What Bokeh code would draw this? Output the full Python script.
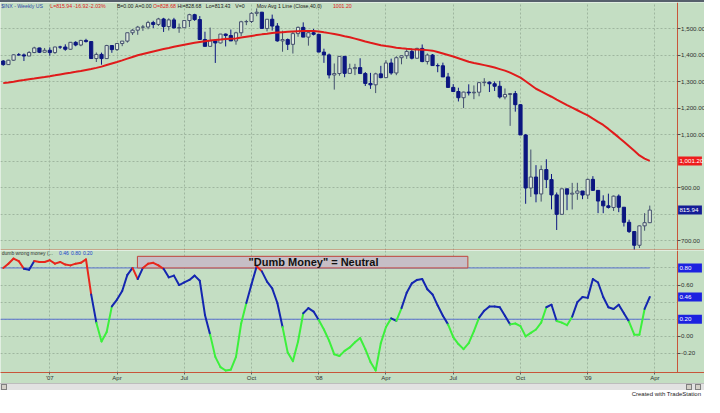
import numpy as np
from bokeh.plotting import figure
from bokeh.models import (ColumnDataSource, FixedTicker, NumeralTickFormatter, Label,
                          Div, Range1d, Span)
from bokeh.core.properties import value
from bokeh.layouts import column
from bokeh.embed import file_html
from bokeh.resources import INLINE

# ---------------- data (weekly $INX, Nov 2006 - Mar 2009) ----------------
opens = [1377.9, 1364.3, 1380.9, 1401.2, 1400.95, 1396.7, 1409.8, 1427.1, 1410.8, 1418.3,
         1409.7, 1430.7, 1430.5, 1422.2, 1448.4, 1438.1, 1455.5, 1451.2, 1387.2, 1402.8,
         1386.95, 1436.1, 1420.9, 1443.8, 1452.85, 1484.35, 1494.1, 1505.6, 1505.85, 1522.75,
         1515.7, 1536.3, 1507.7, 1532.9, 1502.6, 1503.35, 1530.4, 1552.5, 1534.1, 1458.95,
         1433.1, 1453.6, 1445.9, 1479.4, 1474.0, 1453.55, 1484.25, 1525.75, 1526.75, 1557.6,
         1561.8, 1500.6, 1535.3, 1509.65, 1453.7, 1458.7, 1440.7, 1481.1, 1504.7, 1467.95,
         1484.5, 1478.5, 1411.6, 1401.0, 1325.2, 1330.6, 1395.4, 1331.3, 1349.0, 1353.1,
         1330.6, 1293.4, 1288.1, 1329.5, 1315.2, 1370.4, 1332.8, 1390.3, 1397.8, 1413.9,
         1388.3, 1425.35, 1375.9, 1400.4, 1360.7, 1360.0, 1317.9, 1278.4, 1262.9, 1239.5,
         1260.7, 1257.8, 1260.3, 1296.3, 1298.2, 1292.2, 1282.8, 1242.3, 1251.7, 1255.1,
         1213.3, 1099.2, 899.2, 940.55, 876.8, 968.75, 930.99, 873.3, 800.0, 896.2,
         876.1, 879.7, 887.9, 872.8, 931.8, 890.35, 850.1, 831.95, 825.9, 868.6,
         826.8, 770.05, 735.1, 683.4, 756.55, 768.5]
highs = [1381.4, 1382.5, 1403.8, 1407.9, 1406.3, 1415.3, 1431.6, 1428.0, 1427.0, 1429.4,
         1431.6, 1435.3, 1440.7, 1449.3, 1452.4, 1457.6, 1461.6, 1452.0, 1409.9, 1409.5,
         1438.9, 1437.8, 1445.0, 1453.1, 1484.7, 1498.0, 1510.3, 1513.8, 1529.3, 1529.4,
         1540.6, 1540.6, 1538.7, 1540.5, 1519.2, 1532.4, 1555.9, 1555.9, 1547.2, 1488.3,
         1503.9, 1456.0, 1479.9, 1481.5, 1496.4, 1488.1, 1529.4, 1532.9, 1561.9, 1576.1,
         1563.0, 1536.3, 1552.8, 1520.8, 1492.1, 1462.8, 1488.9, 1508.0, 1523.6, 1485.4,
         1498.9, 1479.6, 1424.3, 1406.1, 1368.6, 1396.0, 1395.4, 1367.9, 1367.2, 1388.3,
         1336.4, 1333.2, 1333.7, 1359.7, 1380.9, 1386.7, 1395.9, 1399.1, 1422.7, 1424.6,
         1428.0, 1440.2, 1406.3, 1404.1, 1368.7, 1371.7, 1333.0, 1290.7, 1277.2, 1262.3,
         1290.0, 1285.9, 1299.3, 1313.2, 1300.7, 1300.7, 1303.0, 1274.4, 1255.2, 1265.0,
         1215.0, 1103.0, 1044.3, 985.4, 984.4, 1007.5, 952.0, 882.3, 896.2, 896.2,
         918.6, 918.9, 887.9, 934.7, 943.9, 890.35, 871.8, 877.9, 870.8, 875.0,
         826.8, 780.1, 735.1, 758.3, 804.5, 832.98]
lows = [1360.0, 1363.0, 1378.0, 1398.0, 1377.8, 1396.7, 1407.5, 1407.9, 1410.0, 1398.0,
        1405.0, 1423.3, 1416.6, 1420.1, 1433.4, 1433.6, 1447.4, 1386.9, 1374.1, 1363.98,
        1386.95, 1408.8, 1415.7, 1433.9, 1447.2, 1476.0, 1476.7, 1491.4, 1497.6, 1502.2,
        1510.0, 1487.4, 1492.9, 1500.9, 1484.2, 1503.35, 1506.1, 1529.2, 1458.95, 1433.1,
        1433.1, 1370.6, 1444.3, 1432.8, 1453.4, 1439.3, 1471.8, 1513.0, 1521.0, 1546.7,
        1500.3, 1489.6, 1492.5, 1450.7, 1412.8, 1419.3, 1406.1, 1469.2, 1467.95, 1435.65,
        1474.2, 1411.6, 1370.9, 1312.1, 1270.05, 1322.4, 1316.75, 1331.3, 1324.8, 1330.6,
        1283.7, 1272.8, 1256.98, 1312.8, 1315.2, 1326.2, 1324.4, 1365.5, 1386.0, 1384.0,
        1386.2, 1373.1, 1364.9, 1359.9, 1335.6, 1317.9, 1278.4, 1261.8, 1225.4, 1200.4,
        1248.0, 1234.0, 1245.0, 1283.0, 1261.0, 1264.9, 1236.5, 1233.4, 1133.5, 1187.0,
        1099.2, 839.8, 865.8, 845.3, 848.0, 899.0, 818.7, 741.0, 800.0, 815.7,
        818.4, 854.7, 857.1, 857.3, 888.3, 804.5, 804.3, 821.7, 812.9, 808.1,
        754.1, 729.6, 666.8, 672.9, 738.2, 767.0]
closes = [1364.3, 1380.9, 1401.2, 1400.95, 1396.7, 1409.8, 1427.1, 1410.8, 1418.3, 1409.7,
          1430.7, 1430.5, 1422.2, 1448.4, 1438.1, 1455.5, 1451.2, 1387.2, 1402.8, 1386.95,
          1436.1, 1420.9, 1443.8, 1452.85, 1484.35, 1494.1, 1505.6, 1505.85, 1522.75, 1515.7,
          1536.3, 1507.7, 1532.9, 1502.6, 1503.35, 1530.4, 1552.5, 1534.1, 1458.95, 1433.1,
          1453.6, 1445.9, 1479.4, 1474.0, 1453.55, 1484.25, 1525.75, 1526.75, 1557.6, 1561.8,
          1500.6, 1535.3, 1509.65, 1453.7, 1458.7, 1440.7, 1481.1, 1504.7, 1467.95, 1484.5,
          1478.5, 1411.6, 1401.0, 1325.2, 1330.6, 1395.4, 1331.3, 1349.0, 1353.1, 1330.6,
          1293.4, 1288.1, 1329.5, 1315.2, 1370.4, 1332.8, 1390.3, 1397.8, 1413.9, 1388.3,
          1425.35, 1375.9, 1400.4, 1360.7, 1360.0, 1317.9, 1278.4, 1262.9, 1239.5, 1260.7,
          1257.8, 1260.3, 1296.3, 1298.2, 1292.2, 1282.8, 1242.3, 1251.7, 1255.1, 1213.3,
          1099.2, 899.2, 940.55, 876.8, 968.75, 930.99, 873.3, 800.0, 896.2, 876.1,
          879.7, 887.9, 872.8, 931.8, 890.35, 850.1, 831.95, 825.9, 868.6, 826.8,
          770.05, 735.1, 683.4, 756.55, 768.5, 815.94]
ma40 = [1294.5, 1297.2, 1300.1, 1303.1, 1306.0, 1309.0, 1311.9, 1314.9, 1317.8, 1320.8,
        1324.0, 1327.3, 1330.6, 1333.8, 1337.1, 1340.5, 1344.3, 1348.1, 1352.0, 1356.8,
        1362.6, 1368.4, 1374.2, 1380.4, 1386.8, 1393.2, 1399.4, 1404.3, 1409.1, 1413.9,
        1418.6, 1422.8, 1427.0, 1431.3, 1435.3, 1439.0, 1442.7, 1446.4, 1449.5, 1452.2,
        1454.8, 1457.5, 1458.9, 1460.4, 1461.7, 1463.0, 1466.2, 1469.4, 1472.5, 1475.6,
        1478.3, 1480.9, 1483.6, 1485.5, 1486.6, 1487.7, 1488.8, 1489.9, 1490.6, 1490.6,
        1490.6, 1489.5, 1486.2, 1483.0, 1479.6, 1475.6, 1471.5, 1467.5, 1462.2, 1456.8,
        1451.3, 1446.6, 1442.1, 1437.6, 1434.1, 1431.2, 1428.2, 1425.9, 1424.2, 1422.6,
        1421.1, 1420.0, 1418.9, 1416.9, 1411.6, 1406.2, 1400.8, 1394.9, 1388.4, 1381.9,
        1375.3, 1370.4, 1366.4, 1362.4, 1358.3, 1353.1, 1347.4, 1341.7, 1334.0, 1325.0,
        1315.2, 1301.4, 1287.4, 1273.3, 1263.2, 1253.2, 1243.2, 1232.7, 1222.3, 1211.8,
        1201.9, 1192.3, 1182.6, 1173.0, 1160.7, 1148.6, 1136.8, 1122.0, 1106.0, 1090.0,
        1073.3, 1056.3, 1039.3, 1022.1, 1009.7, 1001.2]
dumb = [0.80, 0.85, 0.91, 0.88, 0.79, 0.78, 0.88, 0.87, 0.87, 0.89,
        0.85, 0.87, 0.84, 0.83, 0.85, 0.86, 0.90, 0.49, 0.16, -0.06,
        0.05, 0.35, 0.43, 0.53, 0.72, 0.80, 0.67, 0.80, 0.85, 0.86,
        0.83, 0.79, 0.69, 0.71, 0.60, 0.63, 0.66, 0.71, 0.65, 0.25,
        0.02, -0.24, -0.36, -0.40, -0.39, -0.24, 0.15, 0.39, 0.61, 0.82,
        0.76, 0.64, 0.56, 0.39, 0.11, -0.19, -0.29, -0.06, 0.27, 0.33,
        0.29, 0.19, 0.08, -0.05, -0.21, -0.23, -0.17, -0.13, -0.07, -0.02,
        -0.15, -0.30, -0.40, -0.08, 0.11, 0.21, 0.18, 0.33, 0.51, 0.62,
        0.66, 0.67, 0.55, 0.49, 0.36, 0.24, 0.14, -0.01, -0.09, -0.15,
        -0.08, 0.06, 0.22, 0.30, 0.35, 0.35, 0.34, 0.24, 0.14, 0.15,
        0.12, 0.00, 0.04, 0.08, 0.16, 0.34, 0.37, 0.18, 0.16, 0.13,
        0.23, 0.40, 0.46, 0.45, 0.67, 0.63, 0.46, 0.34, 0.32, 0.37,
        0.27, 0.17, 0.02, 0.02, 0.32, 0.46]
quarter_idx = [9, 22, 35, 48, 61, 74, 87, 100, 113, 126]
quarter_labels = ["'07", "Apr", "Jul", "Oct", "'08", "Apr", "Jul", "Oct", "'09", "Apr"]
price_grid = [700, 800, 900, 1000, 1100, 1200, 1300, 1400, 1500]
price_labels = [700, 900, 1100, 1200, 1300, 1400, 1500]
ind_grid = [-0.2, 0.0, 0.2, 0.4, 0.6, 0.8]
ind_labels = [-0.2, 0.0, 0.6]
levels = [0.80, 0.20]
last_ma = 1001.20
last_close = 815.94
last_ind = 0.46

# ---------------- style ----------------
BG = "#c4dec3"
GRID = "#9fb69f"
FRAME = "#c8553a"
NAVY = "#0c1680"
UPLINE = "#44506e"
UPFILL = "#dde9dc"
FONT = "Liberation Sans"
X0, XAX, XEND = -0.53, 130.28, 135.58   # left edge, axis position, right edge (bar units)
PR = (663.7, 1598.4)
IR = (-0.423, 1.004)

n = len(closes)
x = np.arange(n)
o = np.array(opens); c = np.array(closes)
up = c >= o
src = ColumnDataSource(dict(
    x=x, high=highs, low=lows,
    top=np.maximum(o, c), bottom=np.minimum(o, c),
    fill=[UPFILL if u else NAVY for u in up],
    line=[UPLINE if u else NAVY for u in up]))


def style(p, yr):
    p.background_fill_color = BG
    p.border_fill_color = BG
    p.outline_line_color = None
    p.xgrid.ticker = FixedTicker(ticks=quarter_idx)
    for g in (p.xgrid, p.ygrid):
        g.grid_line_color = GRID
        g.grid_line_dash = "2 2"
        g.grid_line_width = 1
    # axis strip background (covers grid to the right of the axis)
    p.quad(left=XAX, right=XEND, bottom=yr[0], top=yr[1], fill_color=BG, line_color=None)
    ax = p.yaxis[0]
    ax.fixed_location = XAX
    ax.axis_line_color = FRAME
    ax.major_tick_out = 3
    ax.major_tick_in = 0
    ax.minor_tick_line_color = None
    ax.major_tick_line_color = "#505050"
    ax.major_label_standoff = 1
    ax.major_label_text_font = FONT
    ax.major_label_text_font_size = "6.2px"
    ax.major_label_text_color = "#303030"


def box_labels(p, vals, texts, colrs):
    p.rect(x=[XAX + 2.5] * len(vals), y=vals, width=4.6, height=9, height_units="screen",
           fill_color=colrs, line_color=None)
    p.text(x=[XAX + 0.45] * len(vals), y=vals, text=texts, text_color="white",
           text_font=value(FONT), text_font_size="6.2px", text_baseline="middle")


# ---------------- price panel ----------------
p1 = figure(frame_width=704, frame_height=248, x_range=Range1d(X0, XEND),
            y_range=Range1d(*PR), y_axis_location="right",
            toolbar_location=None, output_backend="svg",
            min_border_left=0, min_border_right=0, min_border_top=0, min_border_bottom=0)
p1.xaxis.visible = False
style(p1, PR)
p1.yaxis.ticker = FixedTicker(ticks=price_labels)
p1.ygrid.ticker = FixedTicker(ticks=price_grid)
p1.yaxis.formatter = NumeralTickFormatter(format="0,0.00")
p1.add_layout(Span(location=PR[0] + 1.5, dimension="width", line_color=FRAME, line_width=1))

p1.segment("x", "high", "x", "low", source=src, color="line", line_width=1)
p1.vbar(x="x", width=0.62, top="top", bottom="bottom", source=src,
        fill_color="fill", line_color="line", line_width=1)
p1.line(x, ma40, color="#e01b1b", line_width=2)

head_y = 1584
header = [(-0.4, "$INX - Weekly  US", "#2c4aa8"), (9.1, "L=815.94", "#e02020"),
          (13.6, "-16.92", "#e02020"), (16.6, "-2.03%", "#e02020"),
          (21.97, "B=0.00", "#202020"), (25.46, "A=0.00", "#202020"),
          (28.96, "O=828.68", "#e02020"), (33.69, "Hi=828.68", "#202020"),
          (39.17, "Lo=813.43", "#202020"), (44.84, "V=0", "#202020"),
          (49.0, "Mov Avg 1 Line (Close,40,0)", "#202020"), (63.74, "1001.20", "#e02020")]
for hx, t, col in header:
    p1.add_layout(Label(x=hx, y=head_y, text=t, text_color=col, text_font=FONT,
                        text_font_size="5.2px", text_baseline="middle"))

box_labels(p1, [last_ma, last_close], ["1,001.20", f"{last_close:.2f}"],
           ["#ee1c1c", "#141c96"])

# ---------------- indicator panel ----------------
p2 = figure(frame_width=704, frame_height=122, x_range=p1.x_range,
            y_range=Range1d(*IR), y_axis_location="right",
            toolbar_location=None, output_backend="svg",
            min_border_left=0, min_border_right=0, min_border_top=0, min_border_bottom=10)
style(p2, IR)
p2.yaxis.ticker = FixedTicker(ticks=ind_labels)
p2.ygrid.ticker = FixedTicker(ticks=ind_grid)
p2.yaxis.formatter = NumeralTickFormatter(format="0.00")
xa = p2.xaxis[0]
xa.ticker = FixedTicker(ticks=quarter_idx)
xa.major_label_overrides = {q: l for q, l in zip(quarter_idx, quarter_labels)}
xa.axis_line_color = FRAME
xa.major_tick_out = 2
xa.major_tick_in = 0
xa.minor_tick_line_color = None
xa.major_tick_line_color = "#606060"
xa.major_label_standoff = 0
xa.major_label_text_font = FONT
xa.major_label_text_font_size = "6px"
xa.major_label_text_color = "#303030"

# threshold lines
for lv in levels:
    p2.line([X0, n - 1], [lv, lv], color="#5a72d0", line_width=1)

# gray comment box
p2.quad(left=25.94, right=89.83, bottom=levels[0], top=levels[0] + 0.136,
        fill_color="#c6bec6", line_color="#c0443c", line_width=1)
p2.add_layout(Label(x=60.0, y=levels[0] + 0.068, text='"Dumb Money" = Neutral',
                    text_font=FONT, text_font_size="11px", text_font_style="bold",
                    text_color="#111111", text_align="center", text_baseline="middle"))

# colored indicator
d = np.array(dumb)
cols = ["#e8261c" if v >= 0.8 else ("#1426b0" if v >= 0.2 else "#3cf03c") for v in d[:-1]]
p2.segment(x0=x[:-1], y0=d[:-1], x1=x[1:], y1=d[1:], color=cols, line_width=2,
           line_cap="round")

sub = [(-0.3, "dumb wrong money (...", "#303030"), (10.8, "0.46", "#2040d0"),
       (13.1, "0.80", "#2040d0"), (15.4, "0.20", "#2040d0")]
for sx, t, col in sub:
    p2.add_layout(Label(x=sx, y=0.972, text=t, text_color=col, text_font=FONT,
                        text_font_size="5px", text_baseline="middle"))

box_labels(p2, [levels[0], last_ind, levels[1]],
           [f"{levels[0]:.2f}", f"{last_ind:.2f}", f"{levels[1]:.2f}"],
           ["#1c22e0"] * 3)

top_bar = Div(text="", width=704, height=2,
              styles={"background-color": "#56606c", "margin": "0"})
bottom = Div(text=(
    '<div style="position:relative;width:704px;height:15px;background:#ffffff;'
    'font-family:Liberation Sans,Arial,sans-serif;">'
    '<div style="position:absolute;left:0;top:0;width:704px;height:7px;background:#e2e2e2;'
    'border-top:1px solid #bdbdbd;"></div>'
    '<div style="position:absolute;left:1px;top:1px;width:6px;height:6px;background:#d4d0c8;'
    'border:1px solid #808080;"></div>'
    '<div style="position:absolute;left:686px;top:1px;width:6px;height:6px;background:#d4d0c8;'
    'border:1px solid #808080;"></div>'
    '<div style="position:absolute;left:695px;top:1px;width:6px;height:6px;background:#d4d0c8;'
    'border:1px solid #808080;"></div>'
    '<div style="position:absolute;right:3px;top:8px;font-size:6px;line-height:7px;'
    'color:#222;">Created with TradeStation</div></div>'),
    width=704, height=15, styles={"margin": "0"})

layout = column(top_bar, p1, p2, bottom, spacing=0)
open("out.html", "w").write(file_html(layout, INLINE))
